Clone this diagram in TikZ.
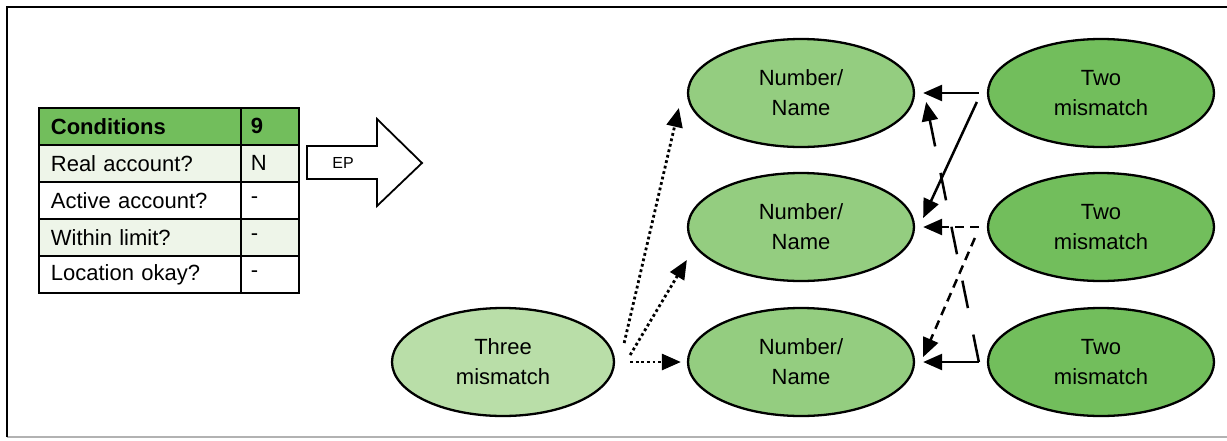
\documentclass[tikz,border=0pt]{standalone}
\usepackage{fontspec}
\setmainfont{Liberation Sans}
\usetikzlibrary{shapes.geometric,arrows.meta,calc}
\definecolor{gNum}{RGB}{148,205,128}
\definecolor{gTwo}{RGB}{114,190,92}
\definecolor{gThree}{RGB}{185,222,168}
\definecolor{gRow}{RGB}{238,245,233}
\begin{document}
\begin{tikzpicture}[x=1pt,y=-1pt,
  every node/.style={font=\fontsize{22}{30}\selectfont},
  ell/.style={ellipse,draw,line width=2.3pt,minimum width=226pt,minimum height=108pt,inner sep=0pt,align=center},
  cellA/.style={rectangle,draw,line width=1.8pt,anchor=north west,minimum height=37pt,text width=178pt,inner xsep=12pt,inner ysep=0pt,align=left},
  cellB/.style={rectangle,draw,line width=1.8pt,anchor=north west,minimum height=37pt,text width=38pt,inner xsep=10pt,inner ysep=0pt,align=left},
  conn/.style={line width=2.5pt,-{Triangle[length=19pt,width=16pt]}},
  dotconn/.style={conn,line width=2.8pt,dash pattern=on 2.8pt off 2.8pt},
  dashconn/.style={conn,dash pattern=on 9pt off 6pt},
  longconn/.style={conn,dash pattern=on 28pt off 27pt},
  bold/.style={font=\fontsize{22}{30}\selectfont\bfseries}
]
\useasboundingbox (0,0) rectangle (1227,440);
\draw[gray!60,line width=1.5pt] (7,437) -- (1227,437);
\draw[line width=2.8pt] (7,437) -- (7,7) -- (1227,7);

% table
\node[cellA,fill=gTwo,bold] (c0) at (38,107) {Conditions};
\node[cellB,fill=gTwo,bold] (v0) at (240,107) {9};
\node[cellA,fill=gRow] (c1) at (38,144) {Real account?};
\node[cellB,fill=gRow] (v1) at (240,144) {N};
\node[cellA,fill=white] (c2) at (38,181) {Active account?};
\node[cellB,fill=white] (v2) at (240,181) {-};
\node[cellA,fill=gRow] (c3) at (38,218) {Within limit?};
\node[cellB,fill=gRow] (v3) at (240,218) {-};
\node[cellA,fill=white] (c4) at (38,255) {Location okay?};
\node[cellB,fill=white] (v4) at (240,255) {-};

% big arrow
\draw[line width=1.8pt,fill=white] (307,146) -- (377,146) -- (377,119) -- (422,163) -- (377,206) -- (377,179) -- (307,179) -- cycle;
\node[font=\fontsize{16}{18}\selectfont] (ep) at (343,163) {EP};

% ellipses
\node[ell,fill=gNum] (n1) at (801,93) {Number/\\Name};
\node[ell,fill=gNum] (n2) at (801,227) {Number/\\Name};
\node[ell,fill=gNum] (n3) at (801,362) {Number/\\Name};
\node[ell,fill=gTwo] (t1) at (1101,93) {Two\\mismatch};
\node[ell,fill=gTwo] (t2) at (1101,227) {Two\\mismatch};
\node[ell,fill=gTwo] (t3) at (1101,362) {Two\\mismatch};
\node[ell,fill=gThree,minimum width=222pt] (th) at (503,362) {Three\\mismatch};

% connectors
\draw[conn] ($(t1.west)+(-8,0)$) -- ($(n1.east)+(8,0)$);
\draw[conn] ($(t1.west)+(-10,9)$) -- ($(n2.east)+(8,-9)$);
\draw[dashconn] ($(t2.west)+(-8,0)$) -- ($(n2.east)+(8,0)$);
\draw[dashconn] ($(t2.west)+(-12,11)$) -- ($(n3.east)+(8,-5)$);
\draw[conn] ($(t3.west)+(-8,0)$) -- ($(n3.east)+(8,0)$);
\draw[longconn] ($(t3.west)+(-8,0)$) -- ($(n1.east)+(11,9)$);

\draw[dotconn] ($(th.east)+(9,-19)$) -- ($(n1.west)+(-8,15)$);
\draw[dotconn] ($(th.east)+(15,-7)$) -- ($(n2.west)+(0,33)$);
\draw[dotconn] ($(th.east)+(15,0)$) -- ($(n3.west)+(-6,0)$);
\end{tikzpicture}
\end{document}
